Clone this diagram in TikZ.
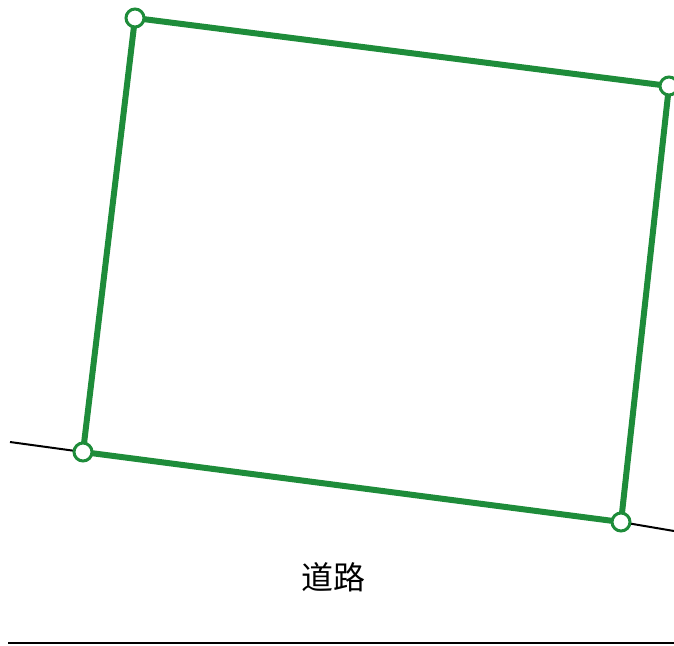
\documentclass[tikz,border=0pt]{standalone}
\usepackage{fontspec}
\newfontfamily\cjk{Noto Sans CJK SC}
\definecolor{lotgreen}{RGB}{30,140,58}
\usetikzlibrary{positioning}
\tikzset{
  corner/.style={circle, draw=lotgreen, line width=3pt, fill=white, minimum size=18pt, inner sep=0pt},
  lotedge/.style={lotgreen, line width=6pt, line join=round},
  roadline/.style={black, line width=2pt}
}
\begin{document}
\begin{tikzpicture}[x=1pt, y=-1pt]
  \useasboundingbox (0,0) rectangle (674,645);
  % Corners of the lot
  \coordinate (tl) at (135,18);
  \coordinate (tr) at (669,86);
  \coordinate (br) at (621,522);
  \coordinate (bl) at (83,452);
  % Road edge
  \coordinate (roadW) at (10,442);
  \coordinate (roadE) at (674,531);
  \draw[roadline] (roadW) -- (bl);
  \draw[roadline] (br) -- (roadE);
  % Lot outline
  \draw[lotedge] (tl) -- (tr) -- (br) -- (bl) -- cycle;
  \node[corner] (ntl) at (tl) {};
  \node[corner] (ntr) at (tr) {};
  \node[corner] (nbr) at (br) {};
  \node[corner] (nbl) at (bl) {};
  % Road label and far edge
  \node[font=\cjk\fontsize{32}{36}\selectfont] (road) at (333,577) {道路};
  \coordinate (farW) at (8,643);
  \coordinate (farE) at (674,643);
  \draw[roadline] (farW) -- (farE);
\end{tikzpicture}
\end{document}
